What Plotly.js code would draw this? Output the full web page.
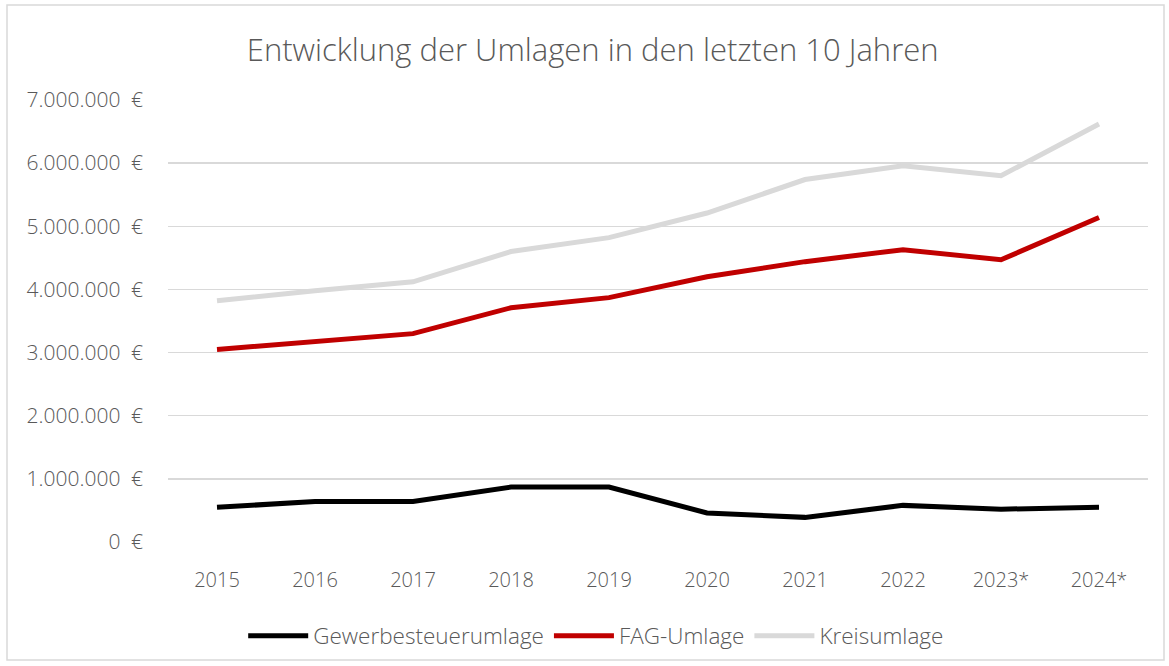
<!DOCTYPE html>
<html>
<head>
<meta charset="utf-8">
<script src="https://cdn.plot.ly/plotly-3.0.1.min.js"></script>
<style>
html,body{margin:0;padding:0;background:#fff;}
#chart{width:1169px;height:666px;}
</style>
</head>
<body>
<div id="chart"></div>
<script>
const years = ["2015","2016","2017","2018","2019","2020","2021","2022","2023*","2024*"];
const gewerbesteuerumlage = [550000, 640000, 640000, 870000, 870000, 460000, 390000, 580000, 520000, 550000];
const fagUmlage = [3050000, 3180000, 3300000, 3710000, 3870000, 4200000, 4440000, 4630000, 4470000, 5140000];
const kreisumlage = [3820000, 3980000, 4120000, 4600000, 4820000, 5210000, 5740000, 5960000, 5800000, 6620000];

const font = "'Open Sans', 'Noto Sans', sans-serif";
const traces = [
  {x: years, y: gewerbesteuerumlage, name: "Gewerbesteuerumlage", type: "scatter", mode: "lines",
   line: {color: "#000000", width: 5}},
  {x: years, y: fagUmlage, name: "FAG-Umlage", type: "scatter", mode: "lines",
   line: {color: "#C00000", width: 5}},
  {x: years, y: kreisumlage, name: "Kreisumlage", type: "scatter", mode: "lines",
   line: {color: "#D9D9D9", width: 5}}
];
const layout = {
  width: 1169, height: 666,
  margin: {l: 168, r: 21, t: 100, b: 124},
  paper_bgcolor: "#fff", plot_bgcolor: "#fff",
  separators: ",.",
  font: {family: font, color: "#595959", size: 20, weight: 300},
  title: {text: "Entwicklung der Umlagen in den letzten 10 Jahren", x: 0.507, xref: "container",
          y: 0.925, yref: "container", yanchor: "middle",
          font: {family: font, size: 31, color: "#595959", weight: 300}},
  xaxis: {type: "category", range: [-0.5, 9.5], showgrid: false, zeroline: false,
          showline: false, ticks: "", tickfont: {size: 20, color: "#595959", weight: 300}, ticklabelstandoff: 24},
  yaxis: {range: [0, 7000000], dtick: 1000000, tickformat: ",.0f", ticksuffix: "\u2002€",
          showgrid: true, gridcolor: "#D9D9D9", gridwidth: 1.3, zeroline: false, showline: false,
          ticks: "", ticklabelstandoff: 24, tickfont: {size: 21, color: "#595959", weight: 300}},
  showlegend: true,
  legend: {orientation: "h", x: 0.51, xref: "container", xanchor: "center", y: 0.045, yref: "container",
           yanchor: "middle", font: {size: 22.5, color: "#595959", weight: 300}, itemwidth: 60, traceorder: "normal"},
  shapes: [{type: "rect", xref: "paper", yref: "paper", x0: -161/980, x1: 1+16/980,
            y0: -118/442, y1: 1+95/442, line: {color: "#D9D9D9", width: 1.5}, fillcolor: "rgba(0,0,0,0)"}]
};
Plotly.newPlot("chart", traces, layout, {displayModeBar: false, staticPlot: true});
</script>
</body>
</html>
